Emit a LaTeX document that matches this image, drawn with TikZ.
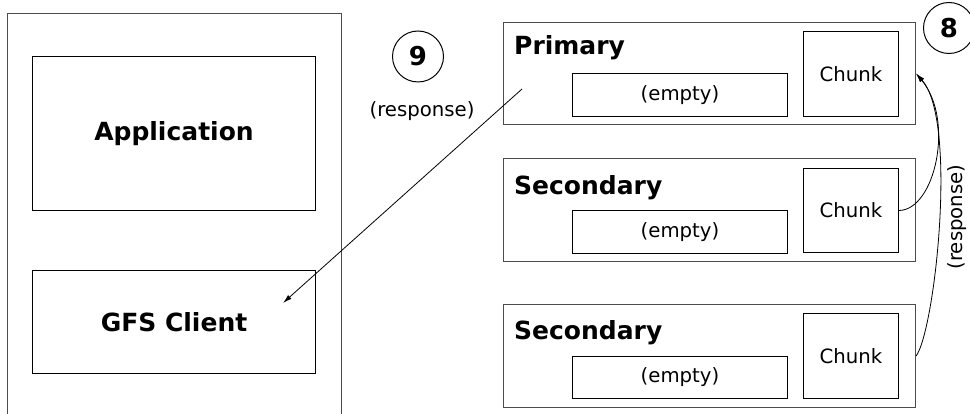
\documentclass[tikz,border=0pt]{standalone}
\usepackage{fontspec}
\setmainfont{DejaVu Sans}
\usetikzlibrary{arrows.meta}
\begin{document}
\begin{tikzpicture}[x=1pt,y=-1pt,
  outerbox/.style={draw=black!70, line width=1.1pt, inner sep=0pt, anchor=north west},
  innerbox/.style={draw=black, line width=1pt, inner sep=0pt, anchor=north west},
  bigtext/.style={font=\fontsize{25}{30}\selectfont\bfseries},
  smalltext/.style={font=\fontsize{19.7}{24}\selectfont},
  numcircle/.style={draw=black, circle, minimum size=51pt, inner sep=0pt, line width=1pt, font=\fontsize{26}{30}\selectfont\bfseries},
  arr/.style={-{Latex[length=9pt,width=5pt]}, line width=0.8pt}
]
\useasboundingbox (0,0) rectangle (970,414);
\clip (0,0) rectangle (970,414);

% left side
\node[outerbox, minimum width=334pt, minimum height=420pt] (host) at (7,13) {};
\node[innerbox, minimum width=283pt, minimum height=154pt, bigtext] (app) at (32,56) {Application};
\node[innerbox, minimum width=283pt, minimum height=103pt, bigtext] (client) at (32,270) {GFS Client};

% primary
\node[outerbox, minimum width=412pt, minimum height=102pt] (prim) at (503,22) {};
\node[bigtext, anchor=base west, inner sep=0pt] (primlbl) at (514,55) {Primary};
\node[innerbox, minimum width=215pt, minimum height=43pt, smalltext] (pempty) at (572,73) {(empty)};
\node[innerbox, minimum width=95pt, minimum height=85pt, smalltext] (pchunk) at (803,31) {Chunk};

% secondary 1
\node[outerbox, minimum width=412pt, minimum height=103pt] (sec1) at (503,158) {};
\node[bigtext, anchor=base west, inner sep=0pt] (sec1lbl) at (514,195) {Secondary};
\node[innerbox, minimum width=215pt, minimum height=43pt, smalltext] (s1empty) at (572,210) {(empty)};
\node[innerbox, minimum width=95pt, minimum height=84pt, smalltext] (s1chunk) at (803,168) {Chunk};

% secondary 2
\node[outerbox, minimum width=412pt, minimum height=103pt] (sec2) at (503,304) {};
\node[bigtext, anchor=base west, inner sep=0pt] (sec2lbl) at (514,339) {Secondary};
\node[innerbox, minimum width=215pt, minimum height=42pt, smalltext] (s2empty) at (572,356) {(empty)};
\node[innerbox, minimum width=95pt, minimum height=85pt, smalltext] (s2chunk) at (803,313) {Chunk};

% step markers
\node[numcircle] (n9) at (418,56.5) {9};
\node[smalltext] (resp9) at (422,111) {(response)};
\node[numcircle] (n8) at (949,28) {8};
\node[smalltext, rotate=90] (resp8) at (957,217) {(response)};

% connectors
\coordinate (s9) at (522,89);
\coordinate (e9) at (283,303);
\draw[arr] (s9) -- (e9);
\draw[arr] (s1chunk.east) .. controls (935,210) and (955,120) .. (prim.east);
\draw[arr] (sec2.east) .. controls (935,330) and (958,120) .. (prim.east);
\end{tikzpicture}
\end{document}
